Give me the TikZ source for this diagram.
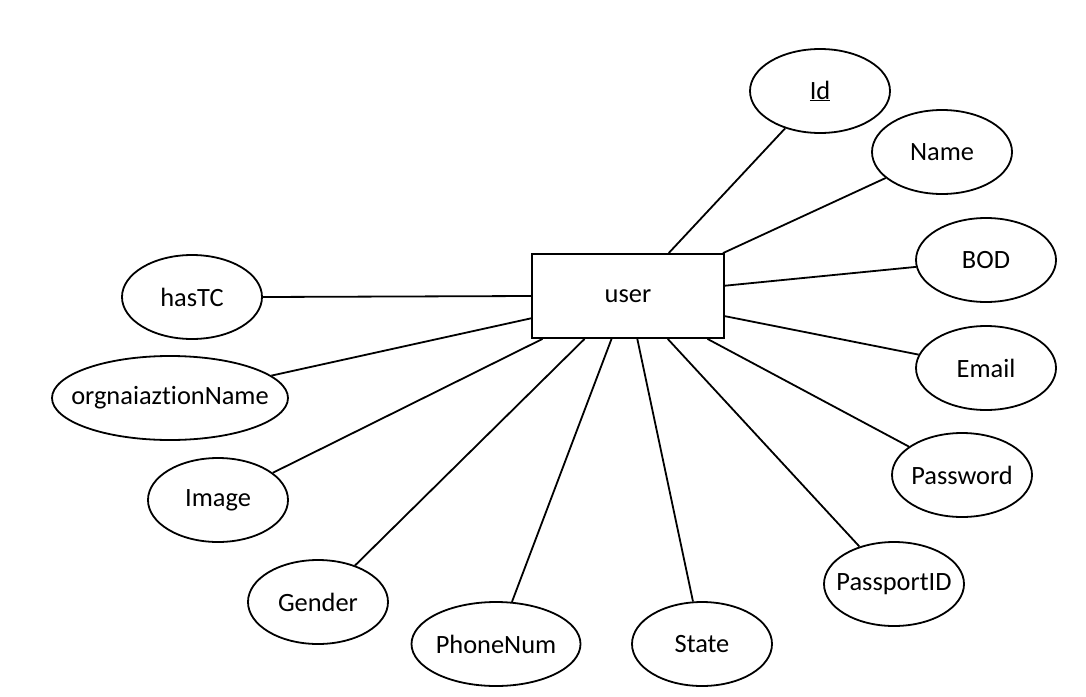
\documentclass[tikz,border=0pt]{standalone}
\usepackage{fontspec}
\setmainfont{Carlito}[Ligatures=NoCommon]
\usetikzlibrary{shapes.geometric,calc}
\newcommand{\lbl}[1]{\makebox[0pt]{\raisebox{-2pt}{#1}}}
\tikzset{
  attr/.style={ellipse, draw=black, line width=1.8pt, minimum width=140pt, minimum height=84pt, inner sep=0pt, font=\fontsize{26.4}{30}\selectfont},
  entity/.style={rectangle, draw=black, line width=1.8pt, minimum width=192pt, minimum height=84pt, inner sep=0pt, font=\fontsize{26.4}{30}\selectfont},
  conn/.style={line width=1.8pt, draw=black}
}
\begin{document}
\begin{tikzpicture}[x=1pt,y=-1pt]
\useasboundingbox[fill=white] (0,0) rectangle (1086,696);
\node[entity] (user) at (628,296) {\lbl{user}};
\node[attr] (id) at (820,91) {\lbl{\underline{Id}}};
\node[attr] (name) at (942,152) {\lbl{Name}};
\node[attr] (bod) at (986,260) {\lbl{BOD}};
\node[attr] (email) at (986,368) {\lbl{Email}};
\node[attr] (password) at (962,475) {\lbl{Password}};
\node[attr] (passport) at (894,584) {\lbl{PassportID}};
\node[attr] (state) at (702,644) {\lbl{State}};
\node[attr, minimum width=169pt] (phone) at (496,644) {\lbl{PhoneNum}};
\node[attr] (gender) at (318,602) {\lbl{Gender}};
\node[attr] (image) at (218,500) {\lbl{Image}};
\node[attr, minimum width=236pt] (org) at (170,398) {\lbl{orgnaiaztionName}};
\node[attr] (hastc) at (192,297) {\lbl{hasTC}};

\draw[conn] ($(user.north west)!0.71!(user.north east)$) -- (id);
\draw[conn] ($(user.north west)!0.99!(user.north east)$) -- (name);
\draw[conn] ($(user.north east)!0.38!(user.south east)$) -- (bod);
\draw[conn] ($(user.north east)!0.735!(user.south east)$) -- (email);
\draw[conn] ($(user.south west)!0.91!(user.south east)$) -- (password);
\draw[conn] ($(user.south west)!0.705!(user.south east)$) -- (passport);
\draw[conn] ($(user.south west)!0.548!(user.south east)$) -- (state);
\draw[conn] ($(user.south west)!0.415!(user.south east)$) -- (phone);
\draw[conn] ($(user.south west)!0.276!(user.south east)$) -- (gender);
\draw[conn] ($(user.south west)!0.059!(user.south east)$) -- (image);
\draw[conn] ($(user.north west)!0.76!(user.south west)$) -- (org);
\draw[conn] (hastc.east) -- (user.west);
\end{tikzpicture}
\end{document}
